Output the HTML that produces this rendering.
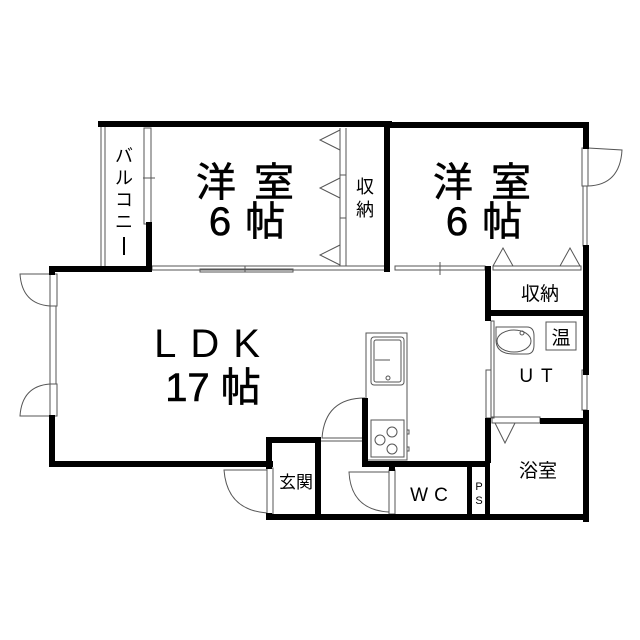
<!DOCTYPE html>
<html><head><meta charset="utf-8"><style>
html,body{margin:0;padding:0;background:#fff}
svg{display:block}
text{font-family:"Liberation Sans","Noto Sans CJK JP",sans-serif;fill:#000}
</style></head><body>
<svg width="640" height="640" viewBox="0 0 640 640" xmlns="http://www.w3.org/2000/svg">
<rect width="640" height="640" fill="#fff"/>
<g fill="none" stroke="#555" stroke-width="1">
 <line x1="101" y1="126" x2="101" y2="268"/><line x1="105" y1="126" x2="105" y2="268"/>
 <rect x="144" y="128" width="7" height="96"/>
 <line x1="143" y1="178" x2="155" y2="178"/>
 <rect x="152" y="266" width="236" height="4"/>
 <rect x="200" y="269" width="93" height="3"/>
 <line x1="245" y1="266" x2="245" y2="272"/>
 <line x1="340" y1="128" x2="340" y2="266"/><line x1="346" y1="128" x2="346" y2="266"/>
 <line x1="340" y1="175" x2="346" y2="175"/><line x1="340" y1="218" x2="346" y2="218"/>
 <polyline points="340,130 320,140 340,150"/>
 <polyline points="340,178 320,188 340,198"/>
 <polyline points="340,245 320,255 340,265"/>
 <rect x="395" y="266" width="90" height="4"/>
 <line x1="440" y1="262" x2="440" y2="275"/>
 <rect x="493" y="266" width="88" height="4"/>
 <polyline points="493,266 503,248 513,266"/>
 <polyline points="560,266 570,248 580,266"/>
 <rect x="582" y="148" width="6" height="38"/>
 <path d="M588,186 Q620,185 622,150 L588,148"/>
 <rect x="583" y="186" width="4" height="60"/>
 <rect x="50" y="274" width="7" height="32"/>
 <path d="M50,306 Q22,304 20,274 L50,274"/>
 <rect x="50" y="306" width="6" height="78"/>
 <rect x="50" y="384" width="7" height="32"/>
 <path d="M50,384 Q22,386 20,416 L50,416"/>
 <rect x="366" y="333" width="41" height="127"/>
 <rect x="371" y="337" width="33" height="48" rx="3"/>
 <rect x="374" y="340" width="27" height="42" rx="2"/>
 <line x1="375" y1="360" x2="390" y2="360"/>
 <circle cx="388" cy="378" r="2"/>
 <rect x="371" y="420" width="33" height="37"/>
 <circle cx="380" cy="440" r="5"/><circle cx="392" cy="432" r="5"/><circle cx="392" cy="449" r="5"/>
 <rect x="407" y="430" width="2" height="4"/><rect x="407" y="447" width="2" height="4"/>
 <path d="M365,398 Q325,398 322,438 L365,438"/>
 <line x1="320" y1="441" x2="365" y2="441"/>
 <rect x="267" y="468" width="6" height="46"/>
 <path d="M267,513 Q227,510 224,470 L267,470"/>
 <rect x="389" y="470" width="6" height="44"/>
 <path d="M389,512 Q351,510 349,472 L389,472"/>
 <rect x="491" y="321" width="3" height="97"/>
 <rect x="486" y="370" width="5" height="48"/>
 <rect x="582" y="370" width="5" height="40"/>
 <path d="M496,327 H527 Q534,327 534,336 V345 Q534,354 527,354 H514 Q496,354 496,340 Z"/>
 <ellipse cx="514" cy="341" rx="17" ry="11"/>
 <circle cx="522" cy="333" r="2"/>
 <rect x="546" y="322" width="30" height="28"/>
 <rect x="492" y="417" width="48" height="6"/>
 <polyline points="495,423 505,443 515,423"/>
</g>
<g fill="#000">
 <rect x="98" y="121" width="294" height="6"/>
 <rect x="387" y="122" width="202" height="6"/>
 <rect x="146" y="222" width="6" height="50"/>
 <rect x="384" y="124" width="6" height="148"/>
 <rect x="583" y="122" width="6" height="27"/>
 <rect x="583" y="245" width="6" height="130"/>
 <rect x="583" y="410" width="6" height="112"/>
 <rect x="49" y="266" width="103" height="6"/>
 <rect x="49" y="266" width="6" height="9"/>
 <rect x="49" y="415" width="6" height="52"/>
 <rect x="49" y="461" width="224" height="6"/>
 <rect x="266" y="437" width="6" height="32"/>
 <rect x="266" y="437" width="54" height="6"/>
 <rect x="315" y="437" width="6" height="80"/>
 <rect x="266" y="513" width="6" height="7"/>
 <rect x="266" y="514" width="323" height="6"/>
 <rect x="362" y="398" width="6" height="68"/>
 <rect x="362" y="461" width="128" height="6"/>
 <rect x="389" y="461" width="6" height="10"/>
 <rect x="467" y="461" width="5" height="58"/>
 <rect x="485" y="461" width="5" height="58"/>
 <rect x="485" y="266" width="6" height="55"/>
 <rect x="485" y="310" width="104" height="6"/>
 <rect x="485" y="418" width="6" height="45"/>
 <rect x="540" y="418" width="49" height="6"/>
</g>
<g text-anchor="middle" stroke="#000" stroke-width="0.6">
 <text x="254" y="196" font-size="40" letter-spacing="18">洋室</text>
 <text x="254" y="235" font-size="40" letter-spacing="14">6帖</text>
 <text x="491" y="196" font-size="40" letter-spacing="18">洋室</text>
 <text x="491" y="235" font-size="40" letter-spacing="14">6帖</text>
 <text x="214" y="357" font-size="40" letter-spacing="14" stroke-width="0">LDK</text>
 <text x="213" y="401" font-size="40">17 帖</text>
</g>
<g text-anchor="middle">
 <text x="365" y="193" font-size="18">収</text>
 <text x="365" y="216" font-size="18">納</text>
 <text x="540" y="300" font-size="19">収納</text>
 <text x="561" y="344" font-size="19">温</text>
 <text x="540" y="382" font-size="19" letter-spacing="8">UT</text>
 <text x="538" y="477" font-size="19">浴室</text>
 <text x="296" y="488" font-size="17">玄関</text>
 <text x="432" y="501" font-size="19" letter-spacing="6">WC</text>
 <text x="479" y="490" font-size="11">P</text>
 <text x="479" y="504" font-size="11">S</text>
 <text x="124" y="162" font-size="18">バ</text>
 <text x="124" y="184" font-size="18">ル</text>
 <text x="124" y="206" font-size="18">コ</text>
 <text x="124" y="228" font-size="18">ニ</text>
</g>
<line x1="124" y1="237" x2="124" y2="255" stroke="#000" stroke-width="2"/>
</svg>
</body></html>
